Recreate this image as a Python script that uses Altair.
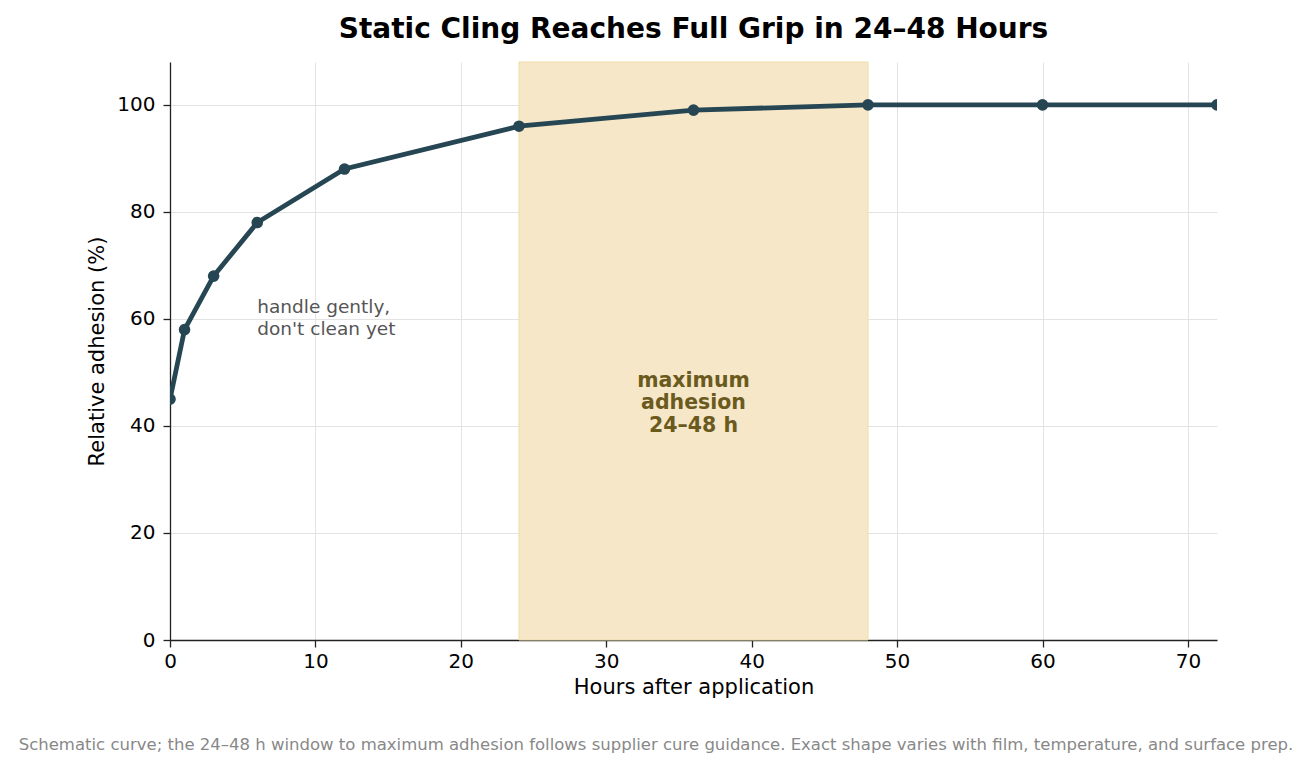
import altair as alt
import pandas as pd

# data
hours = [0, 1, 3, 6, 12, 24, 36, 48, 60, 72]
adhesion = [45, 58, 68, 78, 88, 96, 99, 100, 100, 100]

band_start = [24]
band_end = [48]

note_x = [6]
note_y = [62.2]
note_text = [["handle gently,", "don't clean yet"]]

band_label_x = [36]
band_label_y = [48.4]
band_label = [["maximum", "adhesion", "24\u201348 h"]]

footnote = ("Schematic curve; the 24\u201348 h window to maximum adhesion follows supplier "
            "cure guidance. Exact shape varies with film, temperature, and surface prep.")

df = pd.DataFrame({"hours": hours, "adhesion": adhesion})
band_df = pd.DataFrame({"start": band_start, "end": band_end})
note_df = pd.DataFrame({"x": note_x, "y": note_y, "text": note_text})
label_df = pd.DataFrame({"x": band_label_x, "y": band_label_y, "text": band_label})

FONT = "DejaVu Sans"
W, H = 1047, 578

x_scale = alt.Scale(domain=[0, 72], nice=False)
y_scale = alt.Scale(domain=[0, 108], nice=False)

# shaded window
band = alt.Chart(band_df).mark_rect(
    color="#f5e7c7", stroke="#f0dca8", strokeWidth=1
).encode(
    x=alt.X("start:Q", scale=x_scale),
    x2="end:Q",
    y=alt.value(0),
    y2=alt.value(H),
)

# curve
line = alt.Chart(df).mark_line(
    color="#264653", strokeWidth=4.8, clip=True,
    point=alt.OverlayMarkDef(color="#264653", size=135, filled=True, opacity=1, clip=True),
).encode(
    x=alt.X("hours:Q", scale=x_scale, title="Hours after application",
            axis=alt.Axis(values=list(range(0, 80, 10)), grid=True)),
    y=alt.Y("adhesion:Q", scale=y_scale, title="Relative adhesion (%)",
            axis=alt.Axis(values=list(range(0, 120, 20)), grid=True)),
)

note = alt.Chart(note_df).mark_text(
    align="left", baseline="middle", fontSize=18.5, color="#555555", font=FONT, lineHeight=22
).encode(
    x=alt.X("x:Q", scale=x_scale),
    y=alt.Y("y:Q", scale=y_scale),
    text="text",
)

band_text = alt.Chart(label_df).mark_text(
    align="center", baseline="middle", fontSize=20.5, fontWeight="bold",
    color="#6b5a1e", font=FONT, lineHeight=22.5
).encode(
    x=alt.X("x:Q", scale=x_scale),
    y=alt.Y("y:Q", scale=y_scale),
    text="text",
)

foot = alt.Chart(pd.DataFrame({"t": [footnote]})).mark_text(
    align="center", baseline="middle", fontSize=16.5, color="#888888", font=FONT
).encode(
    x=alt.value(486),
    y=alt.value(683),
    text="t:N",
)

chart = alt.layer(band, line, note, band_text, foot).properties(
    width=W,
    height=H,
    title=alt.TitleParams("Static Cling Reaches Full Grip in 24\u201348 Hours",
                          fontSize=28, fontWeight="bold", font=FONT, color="#000000",
                          anchor="middle", offset=18),
    padding={"left": 162, "top": 54, "right": 86, "bottom": 120},
    autosize=alt.AutoSizeParams(type="none"),
).configure_view(
    stroke=None
).configure_axis(
    labelFont=FONT, titleFont=FONT, labelFontSize=20, titleFontSize=21,
    labelColor="#000000", titleColor="#000000", titleFontWeight="normal",
    domainColor="#222222", domainWidth=1.3, tickColor="#222222", tickSize=7, tickWidth=1.3,
    gridColor="#e3e3e3", gridWidth=1, labelFlush=False,
).configure_axisX(
    labelPadding=4, titlePadding=5
).configure_axisY(
    labelPadding=8, titlePadding=9
)

chart.save("out.html", embed_options={"renderer": "svg", "actions": False})
